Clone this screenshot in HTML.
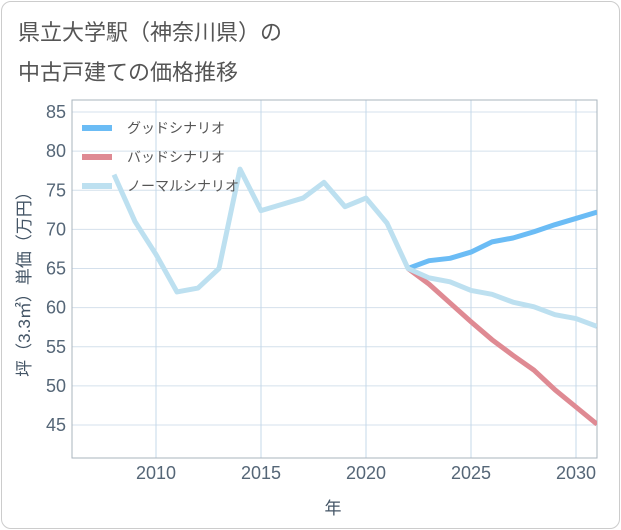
<!DOCTYPE html>
<html><head><meta charset="utf-8"><style>
body{margin:0;background:#fff;font-family:"Liberation Sans","Noto Sans CJK JP",sans-serif}
#card{position:absolute;left:1px;top:1px;width:617px;height:526px;border:1px solid #ccc;border-radius:10px;background:#fff}
</style></head><body>
<div id="card"></div>
<svg width="621" height="530" style="position:absolute;left:0;top:0">
<text x="18" y="40" font-size="22" fill="#555">県立大学駅（神奈川県）の</text>
<text x="18" y="80" font-size="22" fill="#555">中古戸建ての価格推移</text>
<g id="grid"></g><g id="lines"></g><g id="legend"></g>
<text x="333" y="514" font-size="17" fill="#445566" text-anchor="middle">年</text>
<text transform="translate(30,280) rotate(-90)" font-size="17" fill="#445566" text-anchor="middle">坪（3.3㎡）単価（万円）</text>
</svg>
<script>
const years=[2008,2009,2010,2011,2012,2013,2014,2015,2016,2017,2018,2019,2020,2021,2022,2023,2024,2025,2026,2027,2028,2029,2030,2031];
const normal=[77,71,66.8,62,62.5,65,77.7,72.4,73.2,74,76,72.9,74,70.8,65,63.8,63.3,62.2,61.7,60.7,60.1,59.1,58.6,57.6];
const goodYears=[2022,2023,2024,2025,2026,2027,2028,2029,2030,2031];
const good=[65,66,66.3,67.1,68.4,68.9,69.7,70.6,71.4,72.2];
const bad=[65,63,60.6,58.2,55.9,53.9,52,49.5,47.3,45.1];
const yTicks=[45,50,55,60,65,70,75,80,85];
const xTicks=[2010,2015,2020,2025,2030];
const L=72,R=597,T=100,B=458;
const xs=v=>156+(v-2010)*21, ys=v=>112+(85-v)*7.825;
const NS='http://www.w3.org/2000/svg';
function mk(t,a,p){const e=document.createElementNS(NS,t);for(const k in a)e.setAttribute(k,a[k]);p.appendChild(e);return e;}
const g=document.getElementById('grid');
yTicks.forEach(v=>{const l=mk('line',{x1:L,x2:R,y1:ys(v),y2:ys(v),stroke:'#d4e0ec','stroke-width':1},g);

const t=mk('text',{x:66,y:ys(v)+6,'font-size':18,fill:'#556677','text-anchor':'end'},g);t.textContent=v;
});
xTicks.forEach(v=>{const l=mk('line',{x1:xs(v),x2:xs(v),y1:T,y2:B,stroke:'#c4d8ea','stroke-width':1},g);

const t=mk('text',{x:xs(v),y:479,'font-size':18,fill:'#556677','text-anchor':'middle'},g);t.textContent=v;
});
const fr=mk('rect',{x:L,y:T,width:R-L,height:B-T,fill:'none',stroke:'#aab4be','stroke-width':1},g);

const lg=document.getElementById('lines');
lg.innerHTML='<clipPath id="cp"><rect x="72" y="100" width="525" height="358"/></clipPath>';
lg.setAttribute('clip-path','url(#cp)');
function line(xa,ya,c,n){const p=mk('polyline',{points:xa.map((x,i)=>xs(x)+','+ys(ya[i])).join(' '),fill:'none',stroke:c,'stroke-width':5,'stroke-linejoin':'round'},lg);
}
line(goodYears,good,'#6bbcf5','good-scenario-line');
line(goodYears,bad,'#df8a93','bad-scenario-line');
line(years,normal,'#bde0f0','normal-scenario-line');
const le=document.getElementById('legend');
[['グッドシナリオ','#6bbcf5'],['バッドシナリオ','#df8a93'],['ノーマルシナリオ','#bde0f0']].forEach((d,i)=>{
const y=128+i*29;
const r=mk('line',{x1:82,x2:112,y1:y,y2:y,stroke:d[1],'stroke-width':6},le);

const t=mk('text',{x:127,y:y+5,'font-size':14,fill:'#555'},le);t.textContent=d[0];
});
</script>
</body></html>
